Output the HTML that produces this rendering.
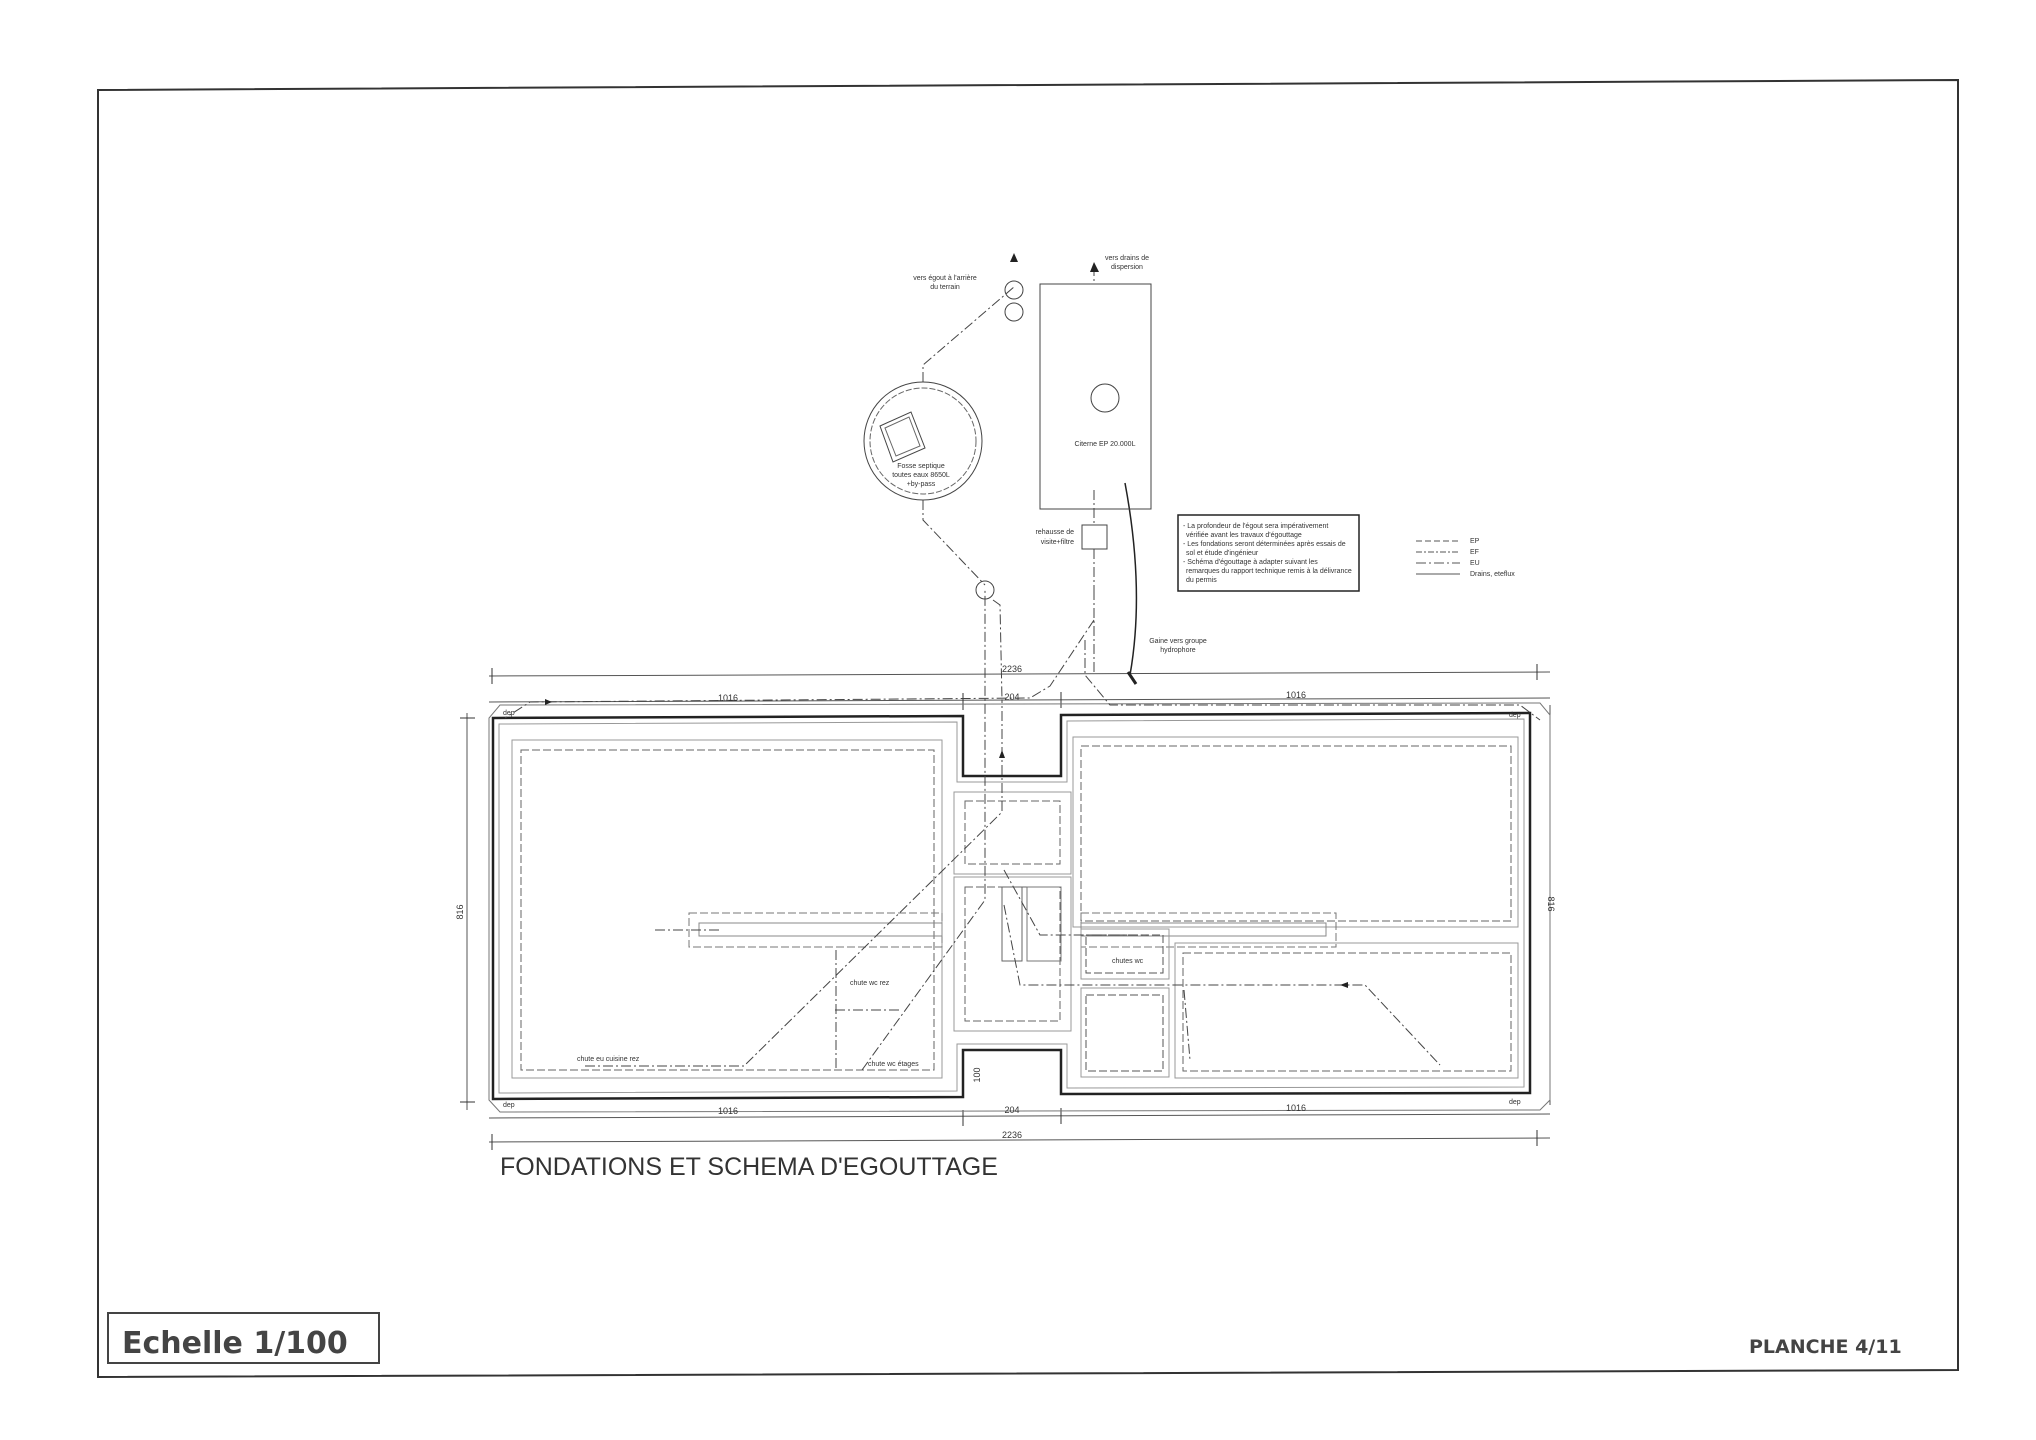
<!DOCTYPE html>
<html><head><meta charset="utf-8"><style>
html,body{margin:0;padding:0;background:#fff;}
svg{display:block;font-family:"Liberation Sans",sans-serif;}
</style></head><body>
<svg width="2036" height="1440" viewBox="0 0 2036 1440" xmlns="http://www.w3.org/2000/svg">
<rect width="2036" height="1440" fill="#fff"/>
<polygon points="98,90 1958,80 1958,1370 98,1377" fill="none" stroke="#333" stroke-width="2"/>
<rect x="108" y="1313" width="271" height="50" fill="none" stroke="#444" stroke-width="2"/>
<text x="122" y="1353" font-family="DejaVu Sans,sans-serif" font-weight="bold" font-size="30" fill="#444">Echelle 1/100</text>
<text x="1749" y="1353" font-family="DejaVu Sans,sans-serif" font-weight="bold" font-size="19" fill="#444">PLANCHE 4/11</text>
<text x="500" y="1175" font-size="25" fill="#333">FONDATIONS ET SCHEMA D'EGOUTTAGE</text>

<g fill="none" stroke="#555" stroke-width="1">
<line x1="489" y1="676" x2="1550" y2="672"/>
<line x1="489" y1="702" x2="1550" y2="698"/>
<line x1="489" y1="1118" x2="1550" y2="1114"/>
<line x1="489" y1="1142" x2="1550" y2="1138"/>
<line x1="467" y1="713" x2="467" y2="1110"/>
<line x1="1550" y1="705" x2="1550" y2="1105"/>
<g stroke="#333"><line x1="492" y1="668" x2="492" y2="684"/><line x1="1537" y1="664" x2="1537" y2="680"/>
<line x1="963" y1="693" x2="963" y2="710"/><line x1="1061" y1="692" x2="1061" y2="708"/>
<line x1="963" y1="1110" x2="963" y2="1126"/><line x1="1061" y1="1108" x2="1061" y2="1124"/>
<line x1="492" y1="1134" x2="492" y2="1150"/><line x1="1537" y1="1130" x2="1537" y2="1146"/>
<line x1="460" y1="718" x2="475" y2="718"/><line x1="460" y1="1102" x2="475" y2="1102"/></g>
<path d="M500,705 L1540,703 L1550,715 L1550,1100 L1540,1110 L500,1112 L489,1100 L489,718 Z" stroke="#777"/>
<path d="M493,718 L963,716 L963,776 L1061,776 L1061,715 L1530,713 L1530,1093 L1061,1094 L1061,1050 L963,1050 L963,1097 L493,1099 Z" stroke="#222" stroke-width="2.5"/>
<path d="M499,724 L957,722 L957,782 L1067,782 L1067,721 L1524,719 L1524,1087 L1067,1088 L1067,1044 L957,1044 L957,1091 L499,1093 Z" stroke="#999"/>
<rect x="512" y="740" width="430" height="338" stroke="#999"/>
<rect x="521" y="750" width="413" height="320" stroke="#666" stroke-dasharray="8,3"/>
<rect x="1073" y="737" width="445" height="190" stroke="#999"/>
<rect x="1081" y="746" width="430" height="175" stroke="#666" stroke-dasharray="8,3"/>
<path d="M1175,943 L1518,943 L1518,1078 L1175,1078 Z" stroke="#999"/>
<path d="M1183,953 L1511,953 L1511,1071 L1183,1071 Z" stroke="#666" stroke-dasharray="8,3"/>
<rect x="954" y="792" width="117" height="82" stroke="#999"/>
<rect x="965" y="801" width="95" height="63" stroke="#666" stroke-dasharray="8,3"/>
<rect x="954" y="877" width="117" height="154" stroke="#999"/>
<rect x="965" y="887" width="95" height="134" stroke="#666" stroke-dasharray="8,3"/>
<rect x="1002" y="887" width="20" height="74" stroke="#666"/>
<rect x="1027" y="887" width="34" height="74" stroke="#777"/>
<rect x="689" y="913" width="253" height="34" stroke="#777" stroke-dasharray="8,3"/>
<rect x="699" y="923" width="243" height="13" stroke="#888"/>
<rect x="1081" y="913" width="255" height="34" stroke="#777" stroke-dasharray="8,3"/>
<rect x="1081" y="923" width="245" height="13" stroke="#888"/>
<rect x="1081" y="929" width="88" height="50" stroke="#999"/>
<rect x="1086" y="935" width="77" height="38" stroke="#555" stroke-dasharray="8,3"/>
<rect x="1081" y="988" width="88" height="89" stroke="#999"/>
<rect x="1086" y="995" width="77" height="76" stroke="#555" stroke-dasharray="8,3"/>
<g stroke="#444" stroke-dasharray="10,3,2,3">
<path d="M585,1066 L744,1066 L1002,812 L1002,700"/>
<path d="M862,1070 L985,900 L985,590"/>
<path d="M1004,905 L1020,985 L1175,985 L1365,985 L1440,1065"/>
<path d="M1004,870 L1040,935 L1148,935"/>
<path d="M1184,990 L1190,1060"/>
<path d="M655,930 L720,930"/>
<path d="M836,950 L836,1070"/>
<path d="M835,1010 L900,1010"/>
<path d="M1085,640 L1085,675 L1110,705 L1520,705 L1540,720"/>
<path d="M1094,590 L1094,675"/>
<path d="M1094,620 L1050,686 L1030,698 L530,702 L505,718"/>
<path d="M1094,490 L1094,525"/>
<path d="M1094,549 L1094,590"/>
<path d="M1094,266 L1094,284"/>
<path d="M923,382 L923,365 L1014,287"/>
<path d="M923,500 L923,520 L985,585"/>
<path d="M993,600 L1000,605 L1002,700"/>
</g>
<path d="M1125,483 Q1145,590 1130,675" stroke="#222" stroke-width="1.5"/>
<line x1="1128" y1="672" x2="1136" y2="684" stroke="#222" stroke-width="3"/>
<rect x="1040" y="284" width="111" height="225" stroke="#444"/>
<circle cx="1105" cy="398" r="14" stroke="#444"/>
<circle cx="923" cy="441" r="59" stroke="#444"/>
<circle cx="923" cy="441" r="53" stroke="#666" stroke-dasharray="6,2"/>
<polygon points="880,426 911,412 925,448 893,462" stroke="#444"/>
<polygon points="885,428 909,417 920,446 896,456" stroke="#666"/>
<circle cx="1014" cy="290" r="9" stroke="#444"/>
<circle cx="1014" cy="312" r="9" stroke="#444"/>
<circle cx="985" cy="590" r="9" stroke="#444"/>
<rect x="1082" y="525" width="25" height="24" stroke="#444"/>
<rect x="1178" y="515" width="181" height="76" stroke="#222" stroke-width="1.5"/>
</g>
<g fill="#222">
<polygon points="1010,262 1018,262 1014,253"/>
<polygon points="1090,272 1099,272 1094,262"/>
<polygon points="1002,750 1005,758 999,758"/>
<polygon points="552,702 545,699 545,705"/>
<polygon points="1340,985 1348,982 1348,988"/>
</g>
<g font-size="7" fill="#333">
<text x="945" y="280" text-anchor="middle">vers égout à l'arrière</text><text x="945" y="289" text-anchor="middle">du terrain</text>
<text x="1127" y="260" text-anchor="middle">vers drains de</text><text x="1127" y="269" text-anchor="middle">dispersion</text>
<text x="1105" y="446" text-anchor="middle">Citerne EP 20.000L</text>
<text x="921" y="468" text-anchor="middle">Fosse septique</text><text x="921" y="477" text-anchor="middle">toutes eaux 8650L</text><text x="921" y="486" text-anchor="middle">+by-pass</text>
<text x="1074" y="534" text-anchor="end">rehausse de</text><text x="1074" y="544" text-anchor="end">visite+filtre</text>
<text x="1183" y="528">- La profondeur de l'égout sera impérativement</text>
<text x="1186" y="537">vérifiée avant les travaux d'égouttage</text>
<text x="1183" y="546">- Les fondations seront déterminées après essais de</text>
<text x="1186" y="555">sol et étude d'ingénieur</text>
<text x="1183" y="564">- Schéma d'égouttage à adapter suivant les</text>
<text x="1186" y="573">remarques du rapport technique remis à la délivrance</text>
<text x="1186" y="582">du permis</text>
<text x="1178" y="643" text-anchor="middle">Gaine vers groupe</text><text x="1178" y="652" text-anchor="middle">hydrophore</text>
<text x="1470" y="543">EP</text><text x="1470" y="554">EF</text><text x="1470" y="565">EU</text><text x="1470" y="576">Drains, eteflux</text>
<text x="1112" y="963">chutes wc</text>
<text x="850" y="985">chute wc rez</text>
<text x="868" y="1066">chute wc étages</text>
<text x="577" y="1061">chute eu cuisine rez</text>
<text x="503" y="715">dep</text><text x="1509" y="717">dep</text><text x="503" y="1107">dep</text><text x="1509" y="1104">dep</text>
</g>
<g stroke="#555" fill="none"><line x1="1416" y1="541" x2="1460" y2="541" stroke-dasharray="6,3"/><line x1="1416" y1="552" x2="1460" y2="552" stroke-dasharray="6,2,2,2"/><line x1="1416" y1="563" x2="1460" y2="563" stroke-dasharray="10,3,2,3"/><line x1="1416" y1="574" x2="1460" y2="574"/></g>
<g font-size="9" fill="#333" text-anchor="middle">
<text x="1012" y="672">2236</text><text x="728" y="701">1016</text><text x="1012" y="700">204</text><text x="1296" y="698">1016</text>
<text x="728" y="1114">1016</text><text x="1012" y="1113">204</text><text x="1296" y="1111">1016</text><text x="1012" y="1138">2236</text>
<text x="463" y="912" transform="rotate(-90 463 912)">816</text><text x="1548" y="904" transform="rotate(90 1548 904)">816</text>
<text x="980" y="1075" transform="rotate(-90 980 1075)">100</text>
</g>
</svg>
</body></html>
